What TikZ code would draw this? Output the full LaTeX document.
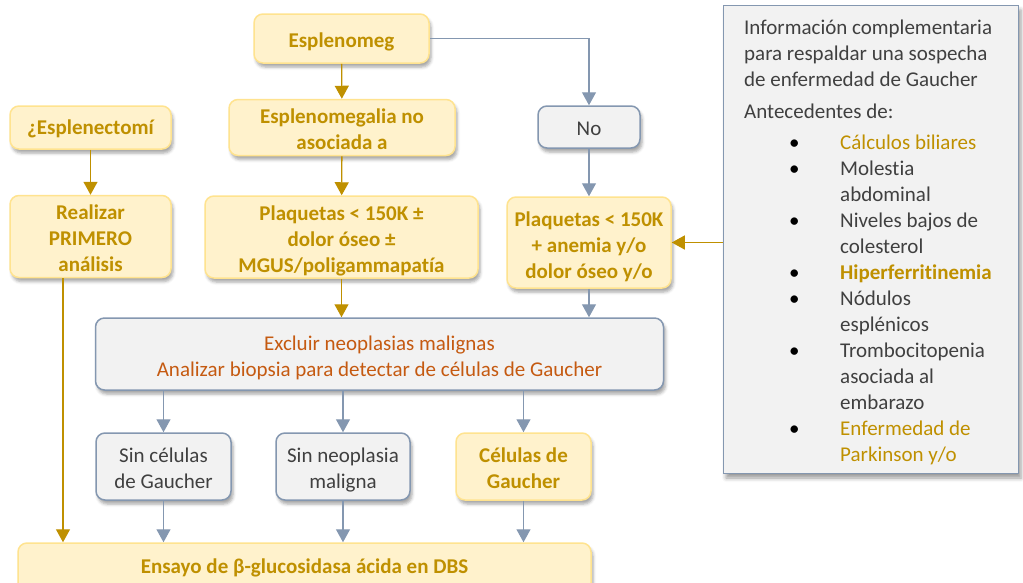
\documentclass[tikz,border=0pt]{standalone}
\usepackage{fontspec}
\setmainfont[Ligatures=NoCommon]{Carlito}
\usetikzlibrary{arrows.meta,shadows.blur}
\definecolor{goldfill}{HTML}{FFF2CC}
\definecolor{goldline}{HTML}{FFE38F}
\definecolor{goldtext}{HTML}{BF9000}
\definecolor{grayfill}{HTML}{F2F2F2}
\definecolor{blueline}{HTML}{8497B0}
\definecolor{darktext}{HTML}{404040}
\definecolor{orangetext}{HTML}{C55A11}
\newcommand\lowtext[2][4pt]{\raisebox{-#1}[\height][\depth]{\begin{tabular}{@{}c@{}}#2\end{tabular}}}
\tikzset{
  box/.style={rounded corners=9pt, line width=1.5pt, align=center, inner sep=2pt,
    blur shadow={shadow xshift=2pt, shadow yshift=-4pt, shadow blur radius=3pt, shadow opacity=35},
    font=\fontsize{21}{26}\selectfont},
  goldbox/.style={box, fill=goldfill, draw=goldline, text=goldtext, font=\fontsize{21}{26}\selectfont\bfseries},
  graybox/.style={box, fill=grayfill, draw=blueline, text=darktext},
  goldarrow/.style={draw=goldtext, line width=1.3pt, -{Triangle[width=14pt,length=13pt]}},
  bluearrow/.style={draw=blueline, line width=1.3pt, -{Triangle[width=14pt,length=13pt]}},
  infotext/.style={inner sep=0pt, text=darktext, font=\fontsize{21}{26}\selectfont},
}
\begin{document}
\begin{tikzpicture}[x=1pt,y=-1pt]
\useasboundingbox (0,0) rectangle (1023,582);
% info box
\node[draw=blueline, line width=1pt, fill=grayfill, minimum width=295pt, minimum height=468pt,
  blur shadow={shadow xshift=3pt, shadow yshift=-5pt, shadow blur radius=4pt, shadow opacity=40}]
  (info) at (870.5,239) {};
\node[infotext, anchor=north west] (infot) at (744,16)
  {\begin{tabular}{@{}l@{}}Información complementaria\\para respaldar una sospecha\\de enfermedad de Gaucher\end{tabular}};
\node[infotext, anchor=base west] (infoa) at (744,118) {Antecedentes de:};
\node[infotext, anchor=north west] (infol) at (789,131)
  {\begin{tabular}{@{}p{51pt}@{}l@{}}
  \textcolor{black}{•} & \textcolor{goldtext}{Cálculos biliares}\\
  \textcolor{black}{•} & Molestia\\
   & abdominal\\
  \textcolor{black}{•} & Niveles bajos de\\
   & colesterol\\
  \textcolor{black}{•} & \textcolor{goldtext}{\bfseries Hiperferritinemia}\\
  \textcolor{black}{•} & Nódulos\\
   & esplénicos\\
  \textcolor{black}{•} & Trombocitopenia\\
   & asociada al\\
   & embarazo\\
  \textcolor{black}{•} & \textcolor{goldtext}{Enfermedad de}\\
   & \textcolor{goldtext}{Parkinson y/o}
  \end{tabular}};
% boxes
\node[goldbox, minimum width=175pt, minimum height=49pt] (esp) at (341.5,38.5) {\lowtext{Esplenomeg}};
\node[goldbox, minimum width=226pt, minimum height=53pt] (espno) at (342,127.5) {\lowtext{Esplenomegalia no\\asociada a}};
\node[goldbox, minimum width=161pt, minimum height=43pt] (q) at (90.5,127.5) {\lowtext[2pt]{¿Esplenectomí}};
\node[goldbox, minimum width=161pt, minimum height=81pt] (real) at (90.5,236.5) {\lowtext{Realizar\\PRIMERO\\análisis}};
\node[goldbox, minimum width=273pt, minimum height=80pt] (plaq1) at (341.5,237) {\lowtext{Plaquetas < 150K ±\\dolor óseo ±\\MGUS/poligammapatía}};
\node[graybox, minimum width=102pt, minimum height=42pt] (no) at (589,127) {\lowtext[3pt]{No}};
\node[goldbox, minimum width=164pt, minimum height=91pt] (plaq2) at (589,242.5) {\lowtext[5pt]{Plaquetas < 150K\\+ anemia y/o\\dolor óseo y/o}};
\node[graybox, text=orangetext, minimum width=568pt, minimum height=72pt] (excl) at (379.5,354) {\lowtext{Excluir neoplasias malignas\\Analizar biopsia para detectar de células de Gaucher}};
\node[graybox, minimum width=135pt, minimum height=67pt] (sin1) at (163.5,466.5) {\lowtext{Sin células\\de Gaucher}};
\node[graybox, minimum width=134pt, minimum height=67pt] (sin2) at (343,466.5) {\lowtext{Sin neoplasia\\maligna}};
\node[goldbox, minimum width=135pt, minimum height=67pt] (cel) at (523.5,466.5) {\lowtext{Células de\\Gaucher}};
\node[goldbox, minimum width=573pt, minimum height=49pt] (ens) at (304.5,567.5) {\lowtext[1pt]{Ensayo de β-glucosidasa ácida en DBS}};
% connectors
\draw[goldarrow] (esp) -- (espno);
\draw[bluearrow] (esp.east) -| (no.north);
\draw[bluearrow] (no) -- (plaq2);
\draw[goldarrow] (espno) -- (plaq1);
\draw[goldarrow] (q) -- (real);
\draw[goldarrow] (plaq1) -- (plaq1.south |- excl.north);
\draw[bluearrow] (plaq2) -- (plaq2.south |- excl.north);
\draw[goldarrow] (info.west |- plaq2.east) -- (plaq2.east);
\draw[goldarrow] ([xshift=-27.5pt]real.south) -- ([xshift=-27.5pt]real.south |- ens.north);
\draw[bluearrow] (sin1.north |- excl.south) -- (sin1.north);
\draw[bluearrow] (sin2.north |- excl.south) -- (sin2.north);
\draw[bluearrow] (cel.north |- excl.south) -- (cel.north);
\draw[bluearrow] (sin1) -- (sin1.south |- ens.north);
\draw[bluearrow] (sin2) -- (sin2.south |- ens.north);
\draw[bluearrow] (cel) -- (cel.south |- ens.north);
\end{tikzpicture}
\end{document}
